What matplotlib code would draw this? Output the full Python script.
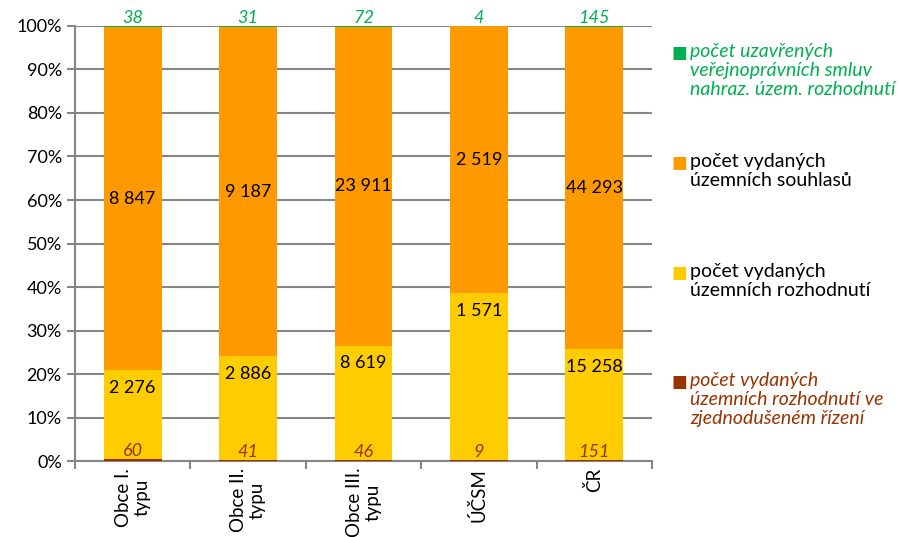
import numpy as np
import matplotlib.pyplot as plt
from matplotlib.ticker import PercentFormatter, FixedLocator

plt.rcParams['font.family'] = ['Lato', 'DejaVu Sans']

categories = ['Obce I.\ntypu', 'Obce II.\ntypu', 'Obce III.\ntypu', 'ÚČSM', 'ČR']
zjednodusene = [60, 41, 46, 9, 151]
rozhodnuti = [2276, 2886, 8619, 1571, 15258]
souhlasy = [8847, 9187, 23911, 2519, 44293]
smlouvy = [38, 31, 72, 4, 145]

labels = ['počet uzavřených\nveřejnoprávních smluv\nnahraz. územ. rozhodnutí',
          'počet vydaných\núzemních souhlasů',
          'počet vydaných\núzemních rozhodnutí',
          'počet vydaných\núzemních rozhodnutí ve\nzjednodušeném řízení']

c_green = '#00B050'
c_orange = '#FF9900'
c_yellow = '#FFCC00'
c_brown = '#993300'

def fmt(v):
    return f'{v:,}'.replace(',', ' ')

series = np.array([zjednodusene, rozhodnuti, souhlasy, smlouvy], dtype=float)
totals = series.sum(axis=0)
shares = series / totals

fig = plt.figure(figsize=(9.03, 5.37), dpi=100)
ax = fig.add_axes([0.083, 0.1415, 0.639, 0.8101])

x = np.arange(len(categories))
w = 0.5
colors = [c_brown, c_yellow, c_orange, c_green]
bottom = np.zeros(len(categories))
for s, col in zip(shares, colors):
    ax.bar(x, s, w, bottom=bottom, color=col, zorder=3)
    bottom += s

fs = 13
for i in range(len(categories)):
    b = shares[0, i]
    y_top = b + shares[1, i]
    o_top = y_top + shares[2, i]
    ax.text(x[i], b, fmt(zjednodusene[i]), ha='center', va='bottom',
            color=c_brown, style='italic', fontsize=fs, zorder=4)
    ax.annotate(fmt(rozhodnuti[i]), (x[i], y_top), xytext=(0, -7),
                textcoords='offset points', ha='center', va='top',
                fontsize=fs, color='black', zorder=4)
    ax.text(x[i], (y_top + o_top) / 2, fmt(souhlasy[i]), ha='center',
            va='center', fontsize=fs, color='black', zorder=4)
    ax.text(x[i], 1.0, fmt(smlouvy[i]), ha='center', va='bottom',
            color=c_green, style='italic', fontsize=fs, zorder=4)

ax.set_xlim(-0.5, len(categories) - 0.5)
ax.set_ylim(0, 1)
ax.yaxis.set_major_locator(FixedLocator(np.arange(0, 1.01, 0.1)))
ax.yaxis.set_major_formatter(PercentFormatter(1.0, decimals=0))
ax.grid(axis='y', color='#868686', linewidth=1.5, zorder=0)
ax.set_xticks(x)
ax.set_xticklabels(categories, rotation=90, ha='center', va='top',
                   multialignment='center', fontsize=13.5, linespacing=1.1)
ax.set_xticks(np.arange(-0.5, len(categories)), minor=True)
ax.tick_params(axis='x', which='major', length=0, pad=5)
ax.tick_params(axis='x', which='minor', length=6, color='#868686', width=1.5)
ax.tick_params(axis='y', length=6, color='#868686', width=1.5, labelsize=13)
for sp in ['top', 'right']:
    ax.spines[sp].set_visible(False)
for sp in ['left', 'bottom']:
    ax.spines[sp].set_color('#868686')
    ax.spines[sp].set_linewidth(1.5)

# legend entries on the right
leg_y = [53, 163, 273, 382]
leg_col = [c_green, c_orange, c_yellow, c_brown]
leg_txt_col = [c_green, 'black', 'black', c_brown]
leg_style = ['italic', 'normal', 'normal', 'italic']
for ly, lab, col, tcol, st in zip(leg_y, labels, leg_col, leg_txt_col, leg_style):
    fig.text(672 / 903, 1 - ly / 537, '■', color=col, fontsize=12,
             ha='left', va='center', family=['DejaVu Sans'])
    fig.text(690 / 903, 1 - (ly - 10) / 537, lab, color=tcol, style=st,
             fontsize=14, ha='left', va='top', linespacing=1.15)

fig.savefig('out.png', dpi=100)
